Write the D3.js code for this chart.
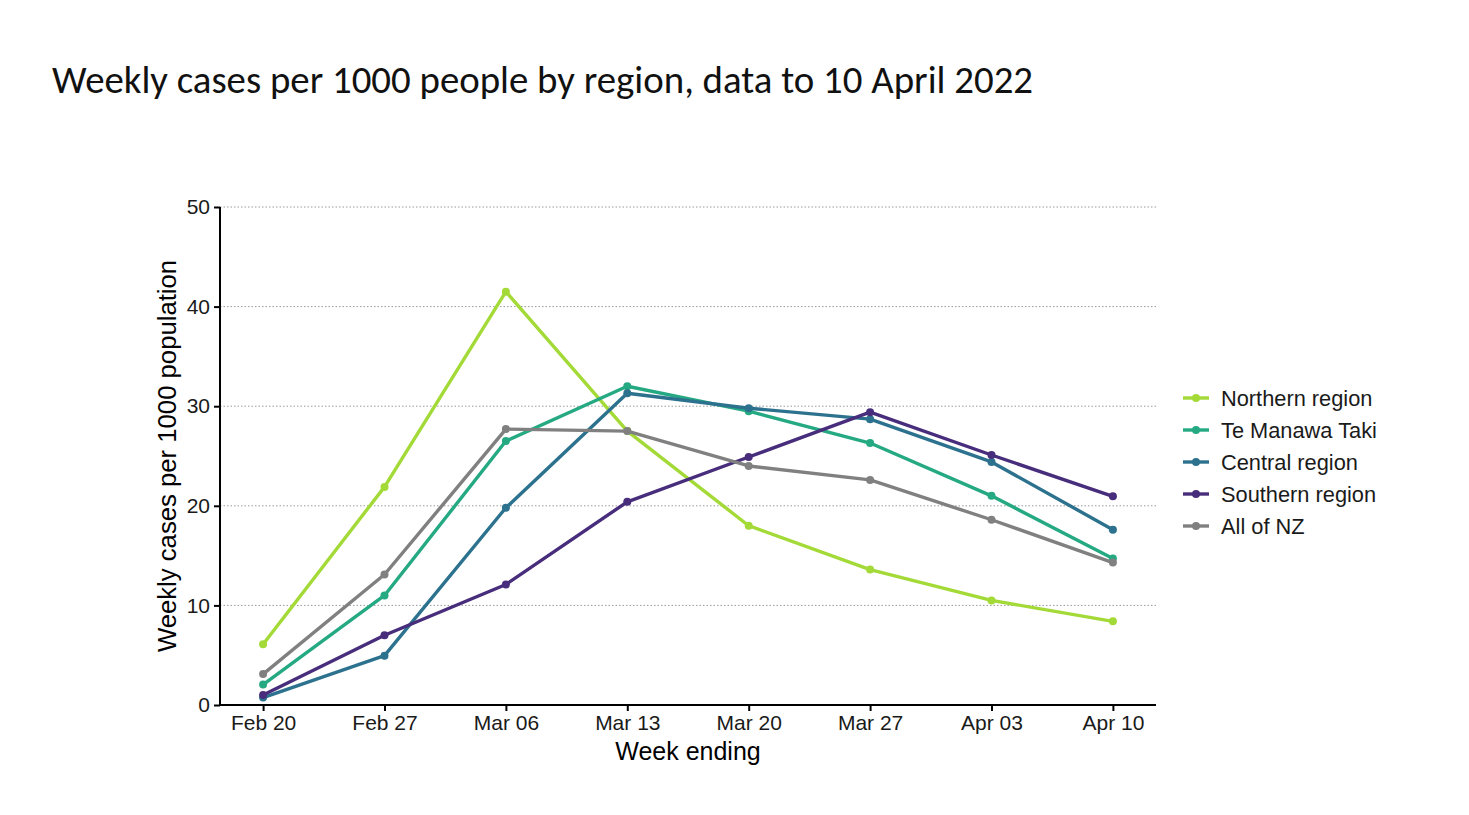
<!DOCTYPE html>
<html>
<head>
<meta charset="utf-8">
<script src="https://cdn.jsdelivr.net/npm/d3@7"></script>
<style>
  html, body { margin: 0; padding: 0; background: #fff; }
  svg { display: block; }
</style>
</head>
<body>
<svg id="chart" width="1469" height="815"></svg>
<script>
const weeks = ["Feb 20", "Feb 27", "Mar 06", "Mar 13", "Mar 20", "Mar 27", "Apr 03", "Apr 10"];
const regions = ["Northern region", "Te Manawa Taki", "Central region", "Southern region", "All of NZ"];
const northern = [6.1, 21.9, 41.5, 27.5, 18.0, 13.6, 10.5, 8.4];
const teManawaTaki = [2.05, 11.0, 26.5, 32.0, 29.5, 26.3, 21.0, 14.7];
const central = [0.75, 4.95, 19.8, 31.3, 29.8, 28.7, 24.4, 17.6];
const southern = [1.0, 7.0, 12.1, 20.4, 24.9, 29.4, 25.1, 20.95];
const allNZ = [3.1, 13.1, 27.7, 27.5, 24.0, 22.6, 18.6, 14.3];
const yTicks = [0, 10, 20, 30, 40, 50];
const colors = ["#a3da37", "#25a983", "#2c728e", "#472d7b", "#808080"];

const seriesValues = [northern, teManawaTaki, central, southern, allNZ];
const series = regions.map((name, i) => ({ name, color: colors[i], values: seriesValues[i] }));

const svg = d3.select("#chart");

// Title
svg.append("text")
  .attr("x", 52).attr("y", 93)
  .attr("font-family", "Carlito, Calibri, 'Open Sans', sans-serif")
  .attr("font-size", 38)
  .attr("textLength", 981)
  .attr("lengthAdjust", "spacingAndGlyphs")
  .attr("fill", "#111")
  .text("Weekly cases per 1000 people by region, data to 10 April 2022");

const pLeft = 220, pRight = 1156, pTop = 207, pBottom = 705;
const x = d3.scalePoint().domain(weeks).range([pLeft, pRight]).padding(0.355);
const y = d3.scaleLinear().domain([0, 50]).range([pBottom, pTop]);

// Gridlines
svg.append("g").selectAll("line")
  .data(yTicks.filter(d => d > 0))
  .join("line")
  .attr("x1", pLeft).attr("x2", pRight)
  .attr("y1", d => y(d)).attr("y2", d => y(d))
  .attr("stroke", "#9a9a9a")
  .attr("stroke-width", 1)
  .attr("stroke-dasharray", "1.5,2");

const font = "'Liberation Sans', Arial, Helvetica, sans-serif";

// Axes
const xAxis = svg.append("g").attr("transform", `translate(0,${pBottom})`)
  .call(d3.axisBottom(x).tickSize(6).tickPadding(4).tickSizeOuter(0));
xAxis.select(".domain").attr("d", `M${pLeft},0H${pRight}`).attr("stroke", "#000").attr("stroke-width", 2);
xAxis.selectAll(".tick line").attr("stroke", "#000").attr("stroke-width", 2);
xAxis.selectAll(".tick text").attr("font-family", font).attr("font-size", 21).attr("fill", "#1a1a1a");

const yAxis = svg.append("g").attr("transform", `translate(${pLeft},0)`)
  .call(d3.axisLeft(y).tickValues(yTicks).tickSize(6).tickPadding(4).tickSizeOuter(0));
yAxis.select(".domain").attr("d", `M0,${pBottom}V${pTop}`).attr("stroke", "#000").attr("stroke-width", 2);
yAxis.selectAll(".tick line").attr("stroke", "#000").attr("stroke-width", 2);
yAxis.selectAll(".tick text").attr("font-family", font).attr("font-size", 21).attr("fill", "#1a1a1a");

// Axis titles
svg.append("text")
  .attr("x", (pLeft + pRight) / 2).attr("y", 760)
  .attr("text-anchor", "middle")
  .attr("font-family", font).attr("font-size", 25).attr("fill", "#000")
  .text("Week ending");

svg.append("text")
  .attr("transform", `translate(176,${(pTop + pBottom) / 2}) rotate(-90)`)
  .attr("text-anchor", "middle")
  .attr("font-family", font).attr("font-size", 25.7).attr("fill", "#000")
  .text("Weekly cases per 1000 population");

// Lines
const line = d3.line().x((d, i) => x(weeks[i])).y(d => y(d));
const plot = svg.append("g");
series.forEach(s => {
  plot.append("path")
    .attr("d", line(s.values))
    .attr("fill", "none")
    .attr("stroke", s.color)
    .attr("stroke-width", 3.4)
    .attr("stroke-linejoin", "round");
  plot.append("g").selectAll("circle")
    .data(s.values)
    .join("circle")
    .attr("cx", (d, i) => x(weeks[i]))
    .attr("cy", d => y(d))
    .attr("r", 4)
    .attr("fill", s.color);
});

// Legend
const legend = svg.append("g").attr("transform", "translate(1183,398)");
series.forEach((s, i) => {
  const g = legend.append("g").attr("transform", `translate(0,${i * 32})`);
  g.append("line").attr("x1", 0).attr("x2", 26).attr("y1", 0).attr("y2", 0)
    .attr("stroke", s.color).attr("stroke-width", 3.4);
  g.append("circle").attr("cx", 13).attr("cy", 0).attr("r", 4).attr("fill", s.color);
  g.append("text").attr("x", 38).attr("y", 0).attr("dy", "0.35em")
    .attr("font-family", font).attr("font-size", 21.8).attr("fill", "#1a1a1a")
    .text(s.name);
});
</script>
</body>
</html>
